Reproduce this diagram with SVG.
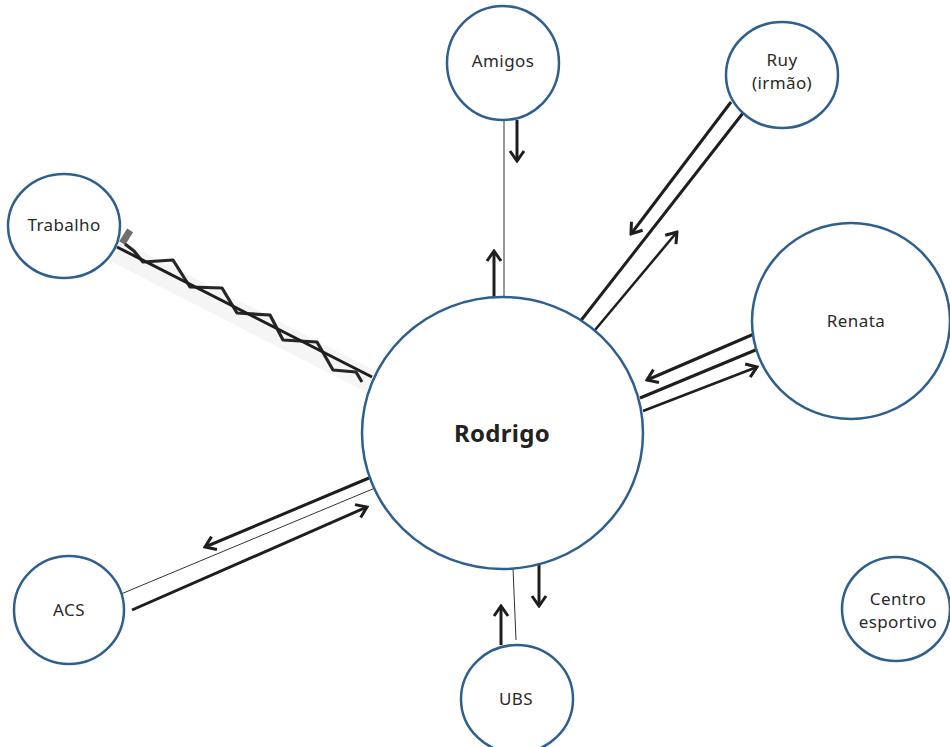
<svg xmlns="http://www.w3.org/2000/svg" width="950" height="747" viewBox="0 0 950 747">
<style>
.node{fill:#fff;stroke:#2f5f8e;stroke-width:2.5}
.lbl{font-family:"Noto Sans","Liberation Sans",sans-serif;font-size:17px;letter-spacing:0.4px;fill:#2a2a2a;text-anchor:middle}
.big{font-family:"Noto Sans","Liberation Sans",sans-serif;font-size:24px;font-weight:bold;letter-spacing:0.3px;fill:#222;text-anchor:middle}
.thick{stroke:#1e1e1e;stroke-width:3;fill:none}
.mid{stroke:#1e1e1e;stroke-width:2.5;fill:none}
.thin{stroke:#333;stroke-width:1;fill:none}
.arr{marker-end:url(#ah)}
</style>
<defs>
<marker id="ah" markerUnits="userSpaceOnUse" viewBox="-14 -10 16 20" refX="0" refY="0" markerWidth="16" markerHeight="20" orient="auto">
<path d="M-10,-7 L0,0 L-10,7" fill="none" stroke="#1e1e1e" stroke-width="3" stroke-linejoin="miter"/>
</marker>
</defs>
<rect width="950" height="747" fill="#fff"/>
<g id="connectors">
<!-- Amigos -->
<line class="thin" x1="504" y1="120" x2="504" y2="298"/>
<line class="thick arr" x1="517" y1="120" x2="517" y2="161"/>
<line class="thick arr" x1="494" y1="298" x2="494" y2="251"/>
<!-- Ruy -->
<line class="thick arr" x1="731" y1="102" x2="631" y2="234"/>
<line class="thick" x1="743" y1="113" x2="579" y2="323"/>
<line class="mid arr" x1="595" y1="330" x2="677" y2="232"/>
<!-- Renata -->
<line class="thick arr" x1="754" y1="334" x2="647" y2="380"/>
<line class="thick" x1="758" y1="349" x2="640" y2="398"/>
<line class="mid arr" x1="643" y1="411" x2="757" y2="367"/>
<!-- ACS -->
<line class="thick arr" x1="369" y1="478" x2="205" y2="547"/>
<line class="thin" x1="375" y1="488" x2="121" y2="594"/>
<line class="thick arr" x1="132" y1="610" x2="367" y2="507"/>
<!-- UBS -->
<line class="thin" x1="513" y1="568" x2="516" y2="640"/>
<line class="thick arr" x1="539" y1="564" x2="539" y2="606"/>
<line class="thick arr" x1="501" y1="645" x2="501" y2="606"/>
<!-- Trabalho -->
<polygon points="120,240 376,371 366,392 110,261" fill="#f5f5f5"/>
<rect x="123" y="229" width="7" height="15" fill="#6f6f6f" transform="rotate(32 126 236)"/>
<polyline points="125,244 134,251 143,262 173,260 190,287 222,288 237,313 270,315 283,340 317,342 333,370 356,372 362,382" fill="none" stroke="#262626" stroke-width="3.2" stroke-linejoin="round"/>
<line x1="117" y1="247" x2="372" y2="377" stroke="#1e1e1e" stroke-width="3"/>
</g>
<g id="n-rodrigo"><ellipse class="node" cx="502.5" cy="433" rx="140.5" ry="136"/><text class="big" x="502" y="442">Rodrigo</text></g>
<g id="n-amigos"><ellipse class="node" cx="503" cy="63" rx="56" ry="57"/><text class="lbl" x="503" y="67">Amigos</text></g>
<g id="n-ruy"><ellipse class="node" cx="782" cy="75" rx="56" ry="53"/><text class="lbl" x="782" y="66">Ruy</text><text class="lbl" x="782" y="89">(irmão)</text></g>
<g id="n-trabalho"><ellipse class="node" cx="64" cy="226" rx="56" ry="52"/><text class="lbl" x="64" y="231">Trabalho</text></g>
<g id="n-renata"><ellipse class="node" cx="851" cy="321" rx="99" ry="98"/><text class="lbl" x="856" y="327">Renata</text></g>
<g id="n-acs"><ellipse class="node" cx="69" cy="610" rx="55" ry="54"/><text class="lbl" x="69" y="616">ACS</text></g>
<g id="n-ubs"><ellipse class="node" cx="517" cy="699" rx="56" ry="54"/><text class="lbl" x="516" y="705">UBS</text></g>
<g id="n-centro"><ellipse class="node" cx="896" cy="609" rx="54" ry="52"/><text class="lbl" x="898" y="605">Centro</text><text class="lbl" x="898" y="628">esportivo</text></g>
</svg>
